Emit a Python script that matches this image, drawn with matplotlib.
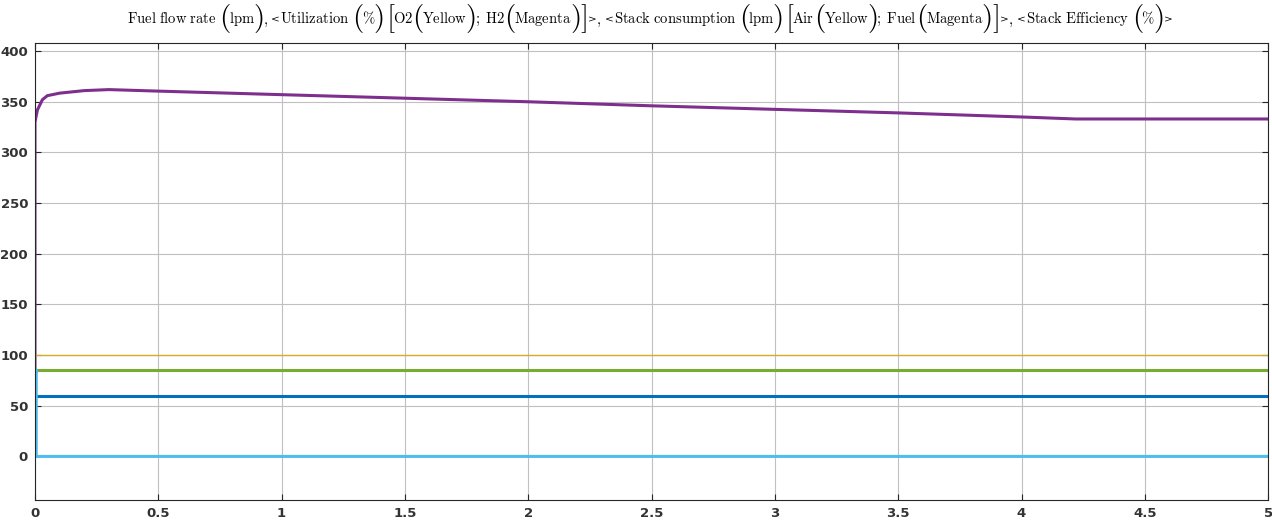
import matplotlib.pyplot as plt
import numpy as np

# time axis (s) and signals
t_fuel = [0, 0, 0.01, 0.03, 0.05, 0.1, 0.2, 0.3, 0.5, 1.0, 1.5, 2.0, 2.5, 3.0, 3.5, 4.0, 4.22, 5.0]
fuel = [0, 330, 342, 352, 356, 358.5, 361, 362, 360.5, 357, 353.5, 350, 346, 342.5, 339, 335, 333, 333]

t_util_o2 = [0, 5.0]
util_o2 = [100, 100]

t_util_h2 = [0, 0, 5.0]
util_h2 = [80, 85, 85]

t_eff = [0, 0, 5.0]
eff = [0, 59.5, 59.5]

t_air = [0, 0.005, 0.005, 5.0]
air = [80, 85, 0, 0]

x_ticks = [0, 0.5, 1, 1.5, 2, 2.5, 3, 3.5, 4, 4.5, 5]
y_ticks = [0, 50, 100, 150, 200, 250, 300, 350, 400]

# title pieces: ()[] are drawn as tall delimiters, <> as small signs
OPEN = '(['
CLOSE = ')]'
SMALL = '<>'
title_parts = ['Fuel flow rate ', '(', 'lpm', ')', ', ', '<', 'Utilization ', '(', '%', ')', ' ',
               '[', 'O2', '(', 'Yellow', ')', '; H2', '(', 'Magenta', ')', ']', '>', ', ',
               '<', 'Stack consumption ', '(', 'lpm', ')', ' ',
               '[', 'Air', '(', 'Yellow', ')', '; Fuel', '(', 'Magenta', ')', ']', '>', ', ',
               '<', 'Stack Efficiency ', '(', '%', ')', '>']

plt.rcParams['mathtext.fontset'] = 'cm'


def to_math(s):
	s = s.replace('%', r'\%').replace(' ', r'\ ')
	return r'$\mathrm{' + s + '}$'


def draw_title(fig, parts, y, size=10.5, big_size=21, space=3.5, trim_in=2.0, trim_out=0.7):
	r = fig.canvas.get_renderer()
	W = fig.bbox.width
	placed = []
	x = 0.0
	prev = ''
	for p in parts:
		if p in OPEN or p in CLOSE:
			t = fig.text(0, y + 0.009, '$' + p + '$', fontsize=big_size, va='center', ha='left')
			w = t.get_window_extent(r).width
			left, right = (trim_out, trim_in) if p in OPEN else (trim_in, trim_out)
			if prev in CLOSE and p in CLOSE:
				left = -0.5
			x -= left
			placed.append((t, x))
			x += w - right
		elif p in SMALL:
			if prev in CLOSE:
				x += 2.0
			t = fig.text(0, y + 0.001, p, fontsize=7.5, family='DejaVu Serif', va='baseline', ha='left')
			w = t.get_window_extent(r).width
			placed.append((t, x))
			x += w
		else:
			core = p.strip()
			x += space * (len(p) - len(p.lstrip()))
			if core:
				t = fig.text(0, y, to_math(core), fontsize=size, va='baseline', ha='left')
				w = t.get_window_extent(r).width
				placed.append((t, x))
				x += w
				x += space * (len(p) - len(p.rstrip()))
		prev = p
	x0 = 650 - x / 2
	for t, px in placed:
		t.set_x((x0 + px) / W)


fig = plt.figure(figsize=(12.72, 5.21), dpi=100)
ax = fig.add_axes([0.0275, 0.0403, 0.9695, 0.8772])

ax.plot(t_fuel, fuel, color='#7E2F8E', lw=2.2)
ax.plot(t_util_o2, util_o2, color='#D4AE2B', lw=1.0)
ax.plot(t_util_h2, util_h2, color='#77AC30', lw=2.2)
ax.plot(t_eff, eff, color='#0072BD', lw=2.2)
ax.plot(t_air, air, color='#4DBEEE', lw=2.2)

ax.set_xlim(0, 5)
ax.set_ylim(-43, 408)
ax.set_xticks(x_ticks)
ax.set_yticks(y_ticks)
ax.set_xticklabels([f'{v:g}' for v in x_ticks])
ax.grid(True, color='#c0c0c0', lw=0.8)
ax.tick_params(direction='in', top=True, right=True, length=4, colors='#262626',
               labelsize=9.5, pad=5)
for lab in ax.get_xticklabels() + ax.get_yticklabels():
	lab.set_fontweight('bold')
	lab.set_color('#333333')
for s in ax.spines.values():
	s.set_color('#262626')
	s.set_linewidth(0.8)

draw_title(fig, title_parts, 0.955)

fig.savefig('out.png', dpi=100)
